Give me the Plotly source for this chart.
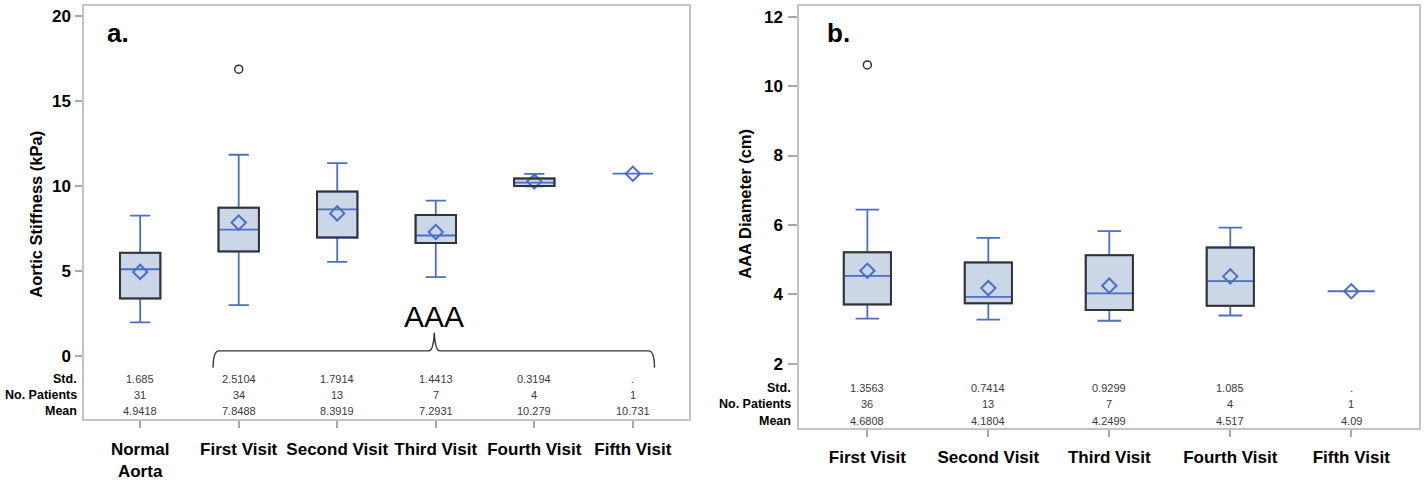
import plotly.graph_objects as go

# ---------------- Panel a: Aortic stiffness ----------------
cats_a = ["Normal<br>Aorta", "First Visit", "Second Visit", "Third Visit", "Fourth Visit", "Fifth Visit"]
q1_a = [3.38, 6.15, 6.97, 6.64, 10.0, 10.731]
med_a = [5.10, 7.44, 8.63, 7.09, 10.2, 10.731]
q3_a = [6.07, 8.73, 9.68, 8.30, 10.45, 10.731]
lo_a = [1.97, 2.99, 5.53, 4.63, 9.98, 10.731]
hi_a = [8.26, 11.85, 11.35, 9.14, 10.72, 10.731]
mean_a = [4.9418, 7.8488, 8.3919, 7.2931, 10.279, 10.731]
std_a = ["1.685", "2.5104", "1.7914", "1.4413", "0.3194", "."]
n_a = [31, 34, 13, 7, 4, 1]
outlier_a_idx = [1]
outlier_a_val = [16.89]

# ---------------- Panel b: AAA diameter ----------------
cats_b = ["First Visit", "Second Visit", "Third Visit", "Fourth Visit", "Fifth Visit"]
q1_b = [3.71, 3.74, 3.55, 3.67, 4.09]
med_b = [4.53, 3.93, 4.03, 4.38, 4.09]
q3_b = [5.21, 4.92, 5.13, 5.35, 4.09]
lo_b = [3.30, 3.27, 3.24, 3.39, 4.09]
hi_b = [6.44, 5.63, 5.82, 5.92, 4.09]
mean_b = [4.6808, 4.1804, 4.2499, 4.517, 4.09]
std_b = ["1.3563", "0.7414", "0.9299", "1.085", "."]
n_b = [36, 13, 7, 4, 1]
outlier_b_idx = [0]
outlier_b_val = [10.61]

FONT = "Arial, Liberation Sans, Helvetica, sans-serif"
BLUE = "#4a6fc4"
FILL = "#cbd6e7"
DARK = "#333333"
FRAME = "#c4c4c4"
TXT = "#3a3a3a"

fig = go.Figure()


def add_panel(xa, ya, cats, q1, med, q3, lo, hi, mean, std, n, out_idx, out_val,
              box_w, row_y, label_x):
    pos = list(range(len(cats)))
    fig.add_trace(go.Box(
        x=pos, q1=q1, median=med, q3=q3, lowerfence=lo, upperfence=hi,
        width=box_w, whiskerwidth=0.5, fillcolor=FILL,
        line=dict(color=BLUE, width=1.8), boxpoints=False,
        xaxis=xa, yaxis=ya, showlegend=False, hoverinfo="skip"))
    # dark outline of each box
    for p, a, b in zip(pos, q1, q3):
        if b > a:
            fig.add_shape(type="rect", xref=xa, yref=ya,
                          x0=p - box_w / 2, x1=p + box_w / 2, y0=a, y1=b,
                          line=dict(color=DARK, width=2), fillcolor="rgba(0,0,0,0)",
                          layer="above")
    fig.add_trace(go.Scatter(
        x=pos, y=mean, mode="markers", xaxis=xa, yaxis=ya, showlegend=False,
        marker=dict(symbol="diamond-open", size=11, color=BLUE, line=dict(width=2, color=BLUE)),
        hoverinfo="skip"))
    fig.add_trace(go.Scatter(
        x=out_idx, y=out_val, mode="markers", xaxis=xa, yaxis=ya, showlegend=False,
        marker=dict(symbol="circle-open", size=8, color=DARK, line=dict(width=1.5, color=DARK)),
        hoverinfo="skip"))
    # statistics table inside the plot
    rows = [("Std.", std), ("No. Patients", n), ("Mean", mean)]
    for (label, vals), yv in zip(rows, row_y):
        fig.add_annotation(xref="paper", yref=ya, x=label_x, y=yv, text="<b>" + label + "</b>",
                           showarrow=False, xanchor="right", yanchor="middle",
                           font=dict(family=FONT, size=12.5, color="black"))
        for p, v in zip(pos, vals):
            fig.add_annotation(xref=xa, yref=ya, x=p, y=yv, text=str(v),
                               showarrow=False, xanchor="center", yanchor="middle",
                               font=dict(family=FONT, size=11, color=TXT))


add_panel("x", "y", cats_a, q1_a, med_a, q3_a, lo_a, hi_a, mean_a, std_a, n_a,
          outlier_a_idx, outlier_a_val, 0.41, [-1.39, -2.30, -3.24], 79 / 1424)
add_panel("x2", "y2", cats_b, q1_b, med_b, q3_b, lo_b, hi_b, mean_b, std_b, n_b,
          outlier_b_idx, outlier_b_val, 0.39, [1.31, 0.83, 0.36], 793 / 1424)

# AAA brace over visits in panel a
brace = ("M 0.74,-0.70 Q 0.742,0.29 0.80,0.29 L 2.93,0.29 Q 2.975,0.29 2.985,1.35 "
         "Q 2.995,0.29 3.04,0.29 L 5.16,0.29 Q 5.218,0.29 5.22,-0.70")
fig.add_shape(type="path", path=brace, xref="x", yref="y",
              line=dict(color=DARK, width=1.4), layer="above")
fig.add_annotation(xref="x", yref="y", x=2.985, y=2.3, text="AAA", showarrow=False,
                   xanchor="center", yanchor="middle",
                   font=dict(family=FONT, size=30, color="black"))

# panel letters
fig.add_annotation(xref="paper", yref="paper", x=105 / 1424, y=(481 - 33) / 481, text="<b>a.</b>",
                   showarrow=False, xanchor="left", yanchor="middle",
                   font=dict(family=FONT, size=26, color="black"))
fig.add_annotation(xref="paper", yref="paper", x=825 / 1424, y=(481 - 33) / 481, text="<b>b.</b>",
                   showarrow=False, xanchor="left", yanchor="middle",
                   font=dict(family=FONT, size=26, color="black"))

# y axis titles
fig.add_annotation(xref="paper", yref="paper", x=36 / 1424, y=(481 - 216) / 481,
                   text="<b>Aortic Stiffness (kPa)</b>", textangle=-90, showarrow=False,
                   xanchor="center", yanchor="middle", font=dict(family=FONT, size=16.5, color="black"))
fig.add_annotation(xref="paper", yref="paper", x=745 / 1424, y=(481 - 205) / 481,
                   text="<b>AAA Diameter (cm)</b>", textangle=-90, showarrow=False,
                   xanchor="center", yanchor="middle", font=dict(family=FONT, size=16.5, color="black"))

axis_common = dict(showline=True, mirror=True, linecolor=FRAME, linewidth=1.5,
                   showgrid=False, zeroline=False, ticks="outside", tickcolor="#a8a8a8",
                   tickwidth=1.5,
                   tickfont=dict(family=FONT, size=17, color="black", weight="bold"))

fig.update_layout(
    width=1424, height=481,
    margin=dict(l=0, r=0, t=0, b=0),
    paper_bgcolor="white", plot_bgcolor="white",
    font=dict(family=FONT),
    xaxis=dict(domain=[84 / 1424, 689 / 1424], range=[-0.57, 5.57], anchor="y",
               tickvals=list(range(len(cats_a))), ticktext=cats_a, ticklen=7,
               ticklabelstandoff=6, **axis_common),
    yaxis=dict(domain=[(481 - 422) / 481, (481 - 6) / 481], range=[-3.75, 20.62], anchor="x",
               tickvals=[0, 5, 10, 15, 20], ticklen=7, ticklabelstandoff=1, **axis_common),
    xaxis2=dict(domain=[799 / 1424, 1419 / 1424], range=[-0.565, 4.56], anchor="y2",
                tickvals=list(range(len(cats_b))), ticktext=cats_b, ticklen=7,
                ticklabelstandoff=6, **axis_common),
    yaxis2=dict(domain=[(481 - 431) / 481, (481 - 6) / 481], range=[0.14, 12.31], anchor="x2",
                tickvals=[2, 4, 6, 8, 10, 12], ticklen=9, ticklabelstandoff=2, **axis_common),
)

fig.write_html("out.html", config={"displayModeBar": False},
               post_script="document.body.style.margin='0';document.body.style.overflow='hidden';")
